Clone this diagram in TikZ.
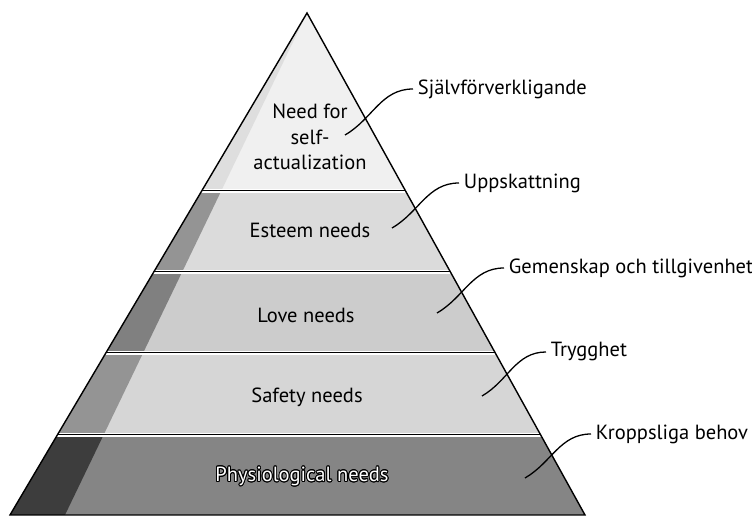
\documentclass[tikz,border=0pt]{standalone}
\usepackage{fontspec}
\setmainfont{PT Sans}
\usepackage{contour}
\contourlength{0.8pt}
\usetikzlibrary{calc}
\definecolor{topfill}{gray}{0.94}
\definecolor{topside}{gray}{0.87}
\definecolor{esteemfill}{gray}{0.86}
\definecolor{esteemside}{gray}{0.58}
\definecolor{lovefill}{gray}{0.80}
\definecolor{loveside}{gray}{0.50}
\definecolor{safetyfill}{gray}{0.84}
\definecolor{safetyside}{gray}{0.58}
\definecolor{physiofill}{gray}{0.52}
\definecolor{physioside}{gray}{0.24}

\begin{document}
\begin{tikzpicture}[x=0.03cm, y=0.03cm, font=\fontsize{17.5}{22}\selectfont,
    layertext/.style={inner sep=0pt, align=center},
    lbl/.style={anchor=west, inner sep=4pt},
    conn/.style={line width=1.1pt, out=180, in=30}]

    \useasboundingbox (0,0) rectangle (752,517);

    % Corners
    \coordinate (apex) at (307,504);
    \coordinate (bl) at (10,2);
    \coordinate (br) at (585,2);
    \coordinate (bs) at (65,2);

    % Layers
    \begin{scope}
        \clip (apex) -- (bl) -- (br) -- cycle;
        \fill[topfill] (0,326) rectangle (752,517);
        \fill[esteemfill] (0,245) rectangle (752,326);
        \fill[lovefill] (0,164) rectangle (752,245);
        \fill[safetyfill] (0,82) rectangle (752,164);
        \fill[physiofill] (0,0) rectangle (752,82);
        % dark side face
        \begin{scope}
            \clip (apex) -- (bl) -- (bs) -- cycle;
            \fill[topside] (0,326) rectangle (752,517);
            \fill[esteemside] (0,245) rectangle (752,326);
            \fill[loveside] (0,164) rectangle (752,245);
            \fill[safetyside] (0,82) rectangle (752,164);
            \fill[physioside] (0,0) rectangle (752,82);
        \end{scope}
        % borders between layers
        \draw[white, line width=2.6pt] (0,326) -- (752,326);
        \draw[white, line width=2.6pt] (0,245) -- (752,245);
        \draw[white, line width=2.6pt] (0,164) -- (752,164);
        \draw[white, line width=2.6pt] (0,82) -- (752,82);
        \draw[line width=0.7pt] (0,327) -- (752,327);
        \draw[line width=0.7pt] (0,246) -- (752,246);
        \draw[line width=0.7pt] (0,165) -- (752,165);
        \draw[line width=0.7pt] (0,83) -- (752,83);
    \end{scope}
    \draw[line width=1.2pt, line join=miter] (apex) -- (bl) -- (br) -- cycle;

    % Layer texts
    \node[layertext] (selfact) at (310,380) {Need for\\self-\\actualization};
    \node[layertext] (esteem) at (310,287) {Esteem needs};
    \node[layertext] (love) at (306,202) {Love needs};
    \node[layertext] (safety) at (307,120) {Safety needs};
    \node[layertext] (physio) at (302,40) {\textcolor{white}{\contour{black}{Physiological needs}}};

    % Swedish labels
    \node[lbl] (lself) at (413,428) {Självförverkligande};
    \node[lbl] (lesteem) at (459,334) {Uppskattning};
    \node[lbl] (llove) at (504,249) {Gemenskap och tillgivenhet};
    \node[lbl] (lsafety) at (546,165) {Trygghet};
    \node[lbl] (lphysio) at (591,83) {Kroppsliga behov};

    \coordinate (eself) at (345,382);
    \coordinate (eesteem) at (392,289);
    \coordinate (elove) at (437,204);
    \coordinate (esafety) at (482,121);
    \coordinate (ephysio) at (525,39);

    \draw[conn] (lself.west) to (eself);
    \draw[conn] (lesteem.west) to (eesteem);
    \draw[conn] (llove.west) to (elove);
    \draw[conn] (lsafety.west) to (esafety);
    \draw[conn] (lphysio.west) to (ephysio);
\end{tikzpicture}
\end{document}
